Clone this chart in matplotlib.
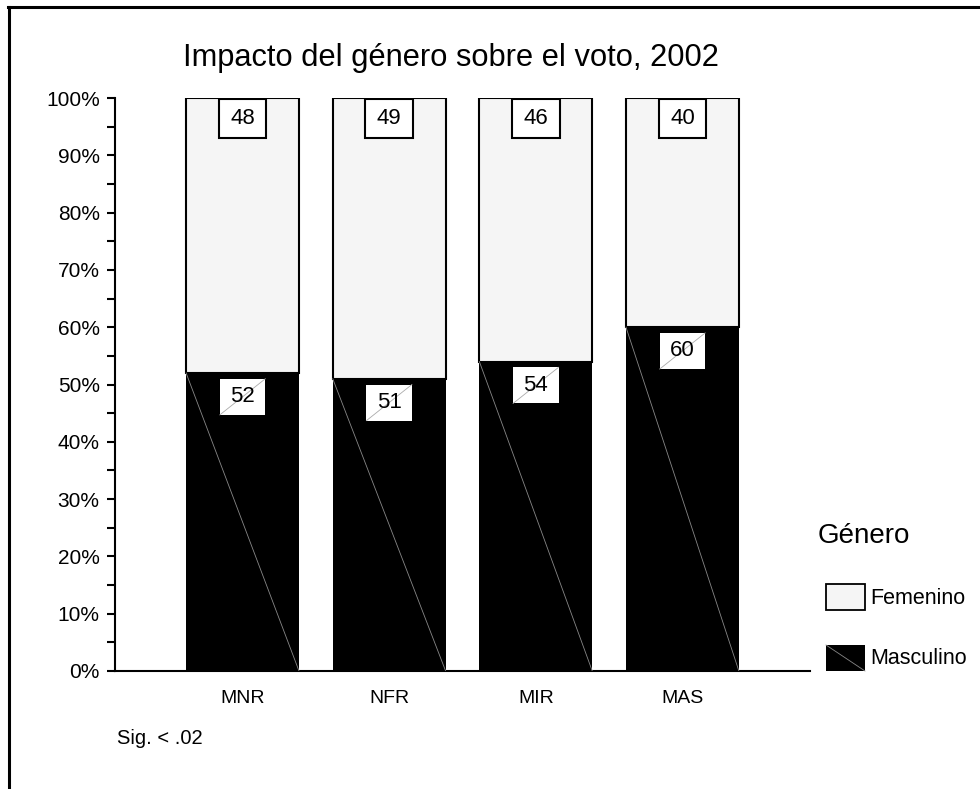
import matplotlib
matplotlib.use("Agg")
import matplotlib.pyplot as plt
from matplotlib.patches import Rectangle
from matplotlib.lines import Line2D
import numpy as np

plt.rcParams['font.family'] = ['Liberation Sans', 'DejaVu Sans']

categories = ["MNR", "NFR", "MIR", "MAS"]
masculino = [52, 51, 54, 60]
femenino = [48, 49, 46, 40]
yticks = [0, 10, 20, 30, 40, 50, 60, 70, 80, 90, 100]
ytick_labels = ["0%", "10%", "20%", "30%", "40%", "50%", "60%", "70%", "80%", "90%", "100%"]

W, H = 980, 789
fig = plt.figure(figsize=(W / 100, H / 100), dpi=100)
fig.patch.set_facecolor("white")

def fx(px):
    return px / W

def fy(py):
    return 1 - py / H

ax = fig.add_axes([fx(115), fy(671), fx(810) - fx(115), fy(98) - fy(671)])
x = np.arange(len(categories))
width = 0.77

ax.bar(x, masculino, width=width, color="black", edgecolor="none", linewidth=0)
ax.bar(x, femenino, width=width, bottom=masculino, color="#f5f5f5",
       edgecolor="black", linewidth=1.5)

# thin gray diagonal inside black segment
for xi, m in zip(x, masculino):
    ax.plot([xi - width / 2, xi + width / 2], [m, 0], color="#888888", lw=0.6, zorder=3)

# label box geometry (axis units)
bw_f, bh_f = 0.325, 6.8
bw_m, bh_m = 0.31, 6.3

# Femenino labels (boxed, at top)
for xi, f, m in zip(x, femenino, masculino):
    top = m + f - 0.2
    ax.add_patch(Rectangle((xi - bw_f / 2, top - bh_f), bw_f, bh_f, facecolor="white",
                           edgecolor="black", lw=1.5, zorder=4))
    ax.text(xi, top - bh_f / 2, f"{f}", ha="center", va="center", fontsize=16, zorder=5)

# Masculino labels (white box, just below boundary, with thin diagonal)
for xi, m in zip(x, masculino):
    top = m - 1.0
    ax.add_patch(Rectangle((xi - bw_m / 2, top - bh_m), bw_m, bh_m, facecolor="white",
                           edgecolor="none", zorder=4))
    ax.plot([xi - bw_m / 2, xi + bw_m / 2], [top - bh_m, top], color="#aaaaaa", lw=0.6, zorder=4.5)
    ax.text(xi, top - bh_m / 2, f"{m}", ha="center", va="center", fontsize=16, zorder=5)

ax.set_xlim(-0.87, 3.87)
ax.set_ylim(0, 100)
ax.set_xticks(x)
ax.set_xticklabels(categories, fontsize=14)
ax.tick_params(axis="x", length=0, pad=14)
ax.set_yticks(yticks)
ax.set_yticklabels(ytick_labels, fontsize=15)
ax.set_yticks(np.arange(5, 100, 10), minor=True)
ax.tick_params(axis="y", which="both", length=6, width=1.5, direction="out", pad=5)
for s in ["top", "right"]:
    ax.spines[s].set_visible(False)
for s in ["left", "bottom"]:
    ax.spines[s].set_linewidth(1.5)

fig.text(fx(451), fy(58), "Impacto del género sobre el voto, 2002", ha="center", va="center", fontsize=22.2)
fig.text(fx(117), fy(738), "Sig. < .02", ha="left", va="center", fontsize=14.5)

# legend (drawn manually)
fig.text(fx(818), fy(536), "Género", ha="left", va="center", fontsize=20)
fig.add_artist(Rectangle((fx(826), fy(610)), fx(865) - fx(826), fy(584) - fy(610),
                         transform=fig.transFigure, facecolor="#f5f5f5", edgecolor="black", lw=1.3))
fig.text(fx(870), fy(598), "Femenino", ha="left", va="center", fontsize=15.5)
fig.add_artist(Rectangle((fx(826), fy(671)), fx(865) - fx(826), fy(645) - fy(671),
                         transform=fig.transFigure, facecolor="black", edgecolor="none"))
fig.add_artist(Line2D([fx(826), fx(865)], [fy(645), fy(671)], transform=fig.transFigure,
                      color="#888888", lw=0.6))
fig.text(fx(870), fy(658), "Masculino", ha="left", va="center", fontsize=15.5)

# outer frame (top and left only)
fig.add_artist(Line2D([fx(8), fx(980)], [fy(6.5), fy(6.5)], transform=fig.transFigure, color="black", lw=2.2))
fig.add_artist(Line2D([fx(9), fx(9)], [fy(6.5), fy(789)], transform=fig.transFigure, color="black", lw=2.2))

fig.savefig("out.png", dpi=100, facecolor="white")
